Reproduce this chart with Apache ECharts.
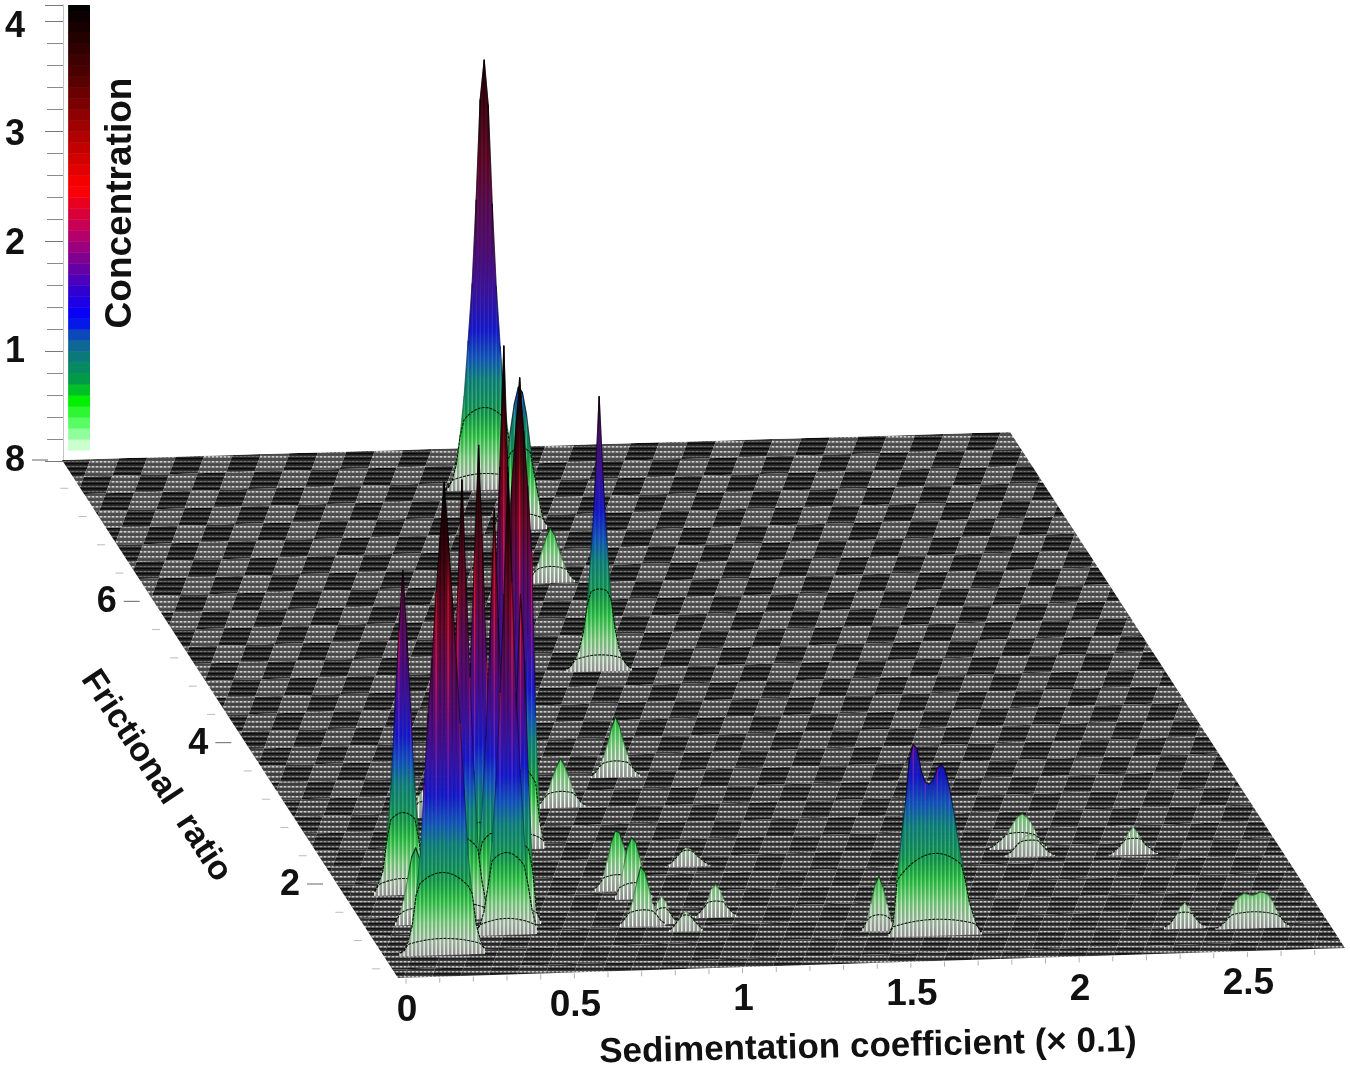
<!DOCTYPE html>
<html>
<head>
<meta charset="utf-8">
<title>Concentration surface</title>
<script src="https://cdn.jsdelivr.net/npm/echarts@6/dist/echarts.min.js"></script>
<style>
html, body { margin: 0; padding: 0; background: #fff; }
#chart { width: 1350px; height: 1071px; filter: blur(0.7px); }
</style>
</head>
<body>
<div id="chart"></div>
<script>
// tick values
var sedimentationTicks = [0, 0.1, 0.2, 0.3, 0.4, 0.5, 0.6, 0.7, 0.8, 0.9, 1, 1.1, 1.2, 1.3, 1.4, 1.5, 1.6, 1.7, 1.8, 1.9, 2, 2.1, 2.2, 2.3, 2.4, 2.5, 2.6, 2.7];
var sedimentationLabels = ['0', '0.5', '1', '1.5', '2', '2.5'];
var frictionalTicks = [8, 7.6, 7.2, 6.8, 6.4, 6, 5.6, 5.2, 4.8, 4.4, 4, 3.6, 3.2, 2.8, 2.4, 2, 1.6, 1.2, 0.8];
var frictionalLabels = ['8', '6', '4', '2'];
var concentrationLabels = ['1', '2', '3', '4'];

// colour bar, value -> colour
var barValues = [0.1, 0.3, 0.55, 0.72, 1.1, 1.3, 1.55, 1.85, 2.1, 2.48, 3.0, 3.5, 4.15];
var barColors = ['#e8ffe8', '#70ff80', '#00f000', '#00a040', '#1060a0', '#0000ff', '#3000d0', '#800090', '#c00060', '#ff0000', '#aa0000', '#500000', '#000000'];

// surface colours as they look on the mesh
var surfaceValues = [0, 0.12, 0.3, 0.5, 0.7, 1.0, 1.2, 1.45, 1.8, 2.2, 2.6, 3.0, 3.4, 3.9, 4.4];
var surfaceColors = ['#8c8c8c', '#98ac98', '#6cbc70', '#28b040', '#108a48', '#0c7a70', '#1050b0', '#1414c8', '#3a10a0', '#540c78', '#600c58', '#6c082c', '#500618', '#280006', '#000000'];

// peaks, back to front: centre on the floor and concentration per mesh column
var peakS = [1.149, 1.179, 1.166, 1.141, 0.988, 0.771, 0.35, 0.564, 0.573, 2.026, 1.03, 2.046, 2.35, 0.147, 0.779, 0.811, 0.349, 0.375, 0.272, 0.128, 1.015, 0.428, 0.851, 0.786, 0.372, 0.902, 1.465, 1.62, 2.36, 2.557, 0.148];
var peakF = [7.41, 6.84, 6.09, 4.84, 3.36, 2.96, 2.88, 2.68, 2.4, 2.19, 2.09, 2.08, 2.06, 1.82, 1.78, 1.66, 1.65, 1.5, 1.45, 1.4, 1.37, 1.36, 1.3, 1.28, 1.22, 1.19, 1.11, 1.02, 1.01, 0.985, 0.97];
var peakColumns = [
    [0.03, 0.1, 0.23, 0.5, 0.86, 1.36, 1.88, 2.64, 3.55, 3.91, 3.5, 2.6, 1.85, 1.3, 0.82, 0.5, 0.22, 0.09, 0.03],
    [0.05, 0.15, 0.35, 0.6, 0.9, 1.15, 1.3, 1.25, 1.05, 0.75, 0.5, 0.3, 0.12, 0.04],
    [0.02, 0.05, 0.1, 0.18, 0.3, 0.42, 0.5, 0.44, 0.32, 0.2, 0.12, 0.06, 0.02],
    [0.03, 0.06, 0.12, 0.2, 0.35, 0.6, 1.1, 1.7, 2.5, 1.75, 1.15, 0.65, 0.38, 0.2, 0.1, 0.05, 0.02],
    [0.02, 0.05, 0.1, 0.18, 0.3, 0.45, 0.55, 0.47, 0.32, 0.2, 0.1, 0.05, 0.02],
    [0.02, 0.05, 0.1, 0.17, 0.28, 0.38, 0.45, 0.38, 0.28, 0.17, 0.1, 0.05, 0.02],
    [0.03, 0.1, 0.2, 0.25, 0.2, 0.1, 0.03],
    [0.1, 0.3, 0.7, 1.3, 2.2, 3.3, 4.4, 3.3, 2.2, 1.3, 0.7, 0.3, 0.1],
    [0.07, 0.25, 1.2, 2.7, 3.3, 3.8, 4.29, 3.8, 3.3, 2.7, 1.2, 0.25, 0.07],
    [0.02, 0.04, 0.07, 0.1, 0.14, 0.19, 0.25, 0.3, 0.32, 0.29, 0.24, 0.17, 0.1, 0.05, 0.02],
    [0.01, 0.03, 0.06, 0.1, 0.14, 0.17, 0.16, 0.13, 0.09, 0.06, 0.03, 0.01],
    [0.02, 0.04, 0.08, 0.12, 0.16, 0.19, 0.2, 0.19, 0.15, 0.1, 0.06, 0.03, 0.01],
    [0.01, 0.03, 0.06, 0.1, 0.15, 0.21, 0.25, 0.2, 0.14, 0.09, 0.06, 0.03, 0.01],
    [0.04, 0.12, 0.22, 0.5, 0.95, 1.7, 2.4, 2.95, 2.35, 1.65, 0.95, 0.5, 0.22, 0.12, 0.04],
    [0.03, 0.07, 0.14, 0.28, 0.45, 0.55, 0.53, 0.42, 0.3, 0.16, 0.07, 0.02],
    [0.04, 0.12, 0.3, 0.48, 0.56, 0.52, 0.38, 0.22, 0.1, 0.03],
    [0.05, 0.15, 0.35, 0.7, 1.3, 2.2, 3.2, 4.18, 3.2, 2.2, 1.3, 0.7, 0.35, 0.15, 0.05],
    [0.05, 0.2, 0.5, 1.0, 1.7, 2.6, 3.7, 2.7, 1.8, 1.0, 0.5, 0.2, 0.05],
    [0.05, 0.15, 0.35, 0.7, 1.3, 2.1, 3.0, 4.0, 3.1, 2.2, 1.35, 0.7, 0.35, 0.15, 0.05],
    [0.03, 0.1, 0.22, 0.42, 0.62, 0.7, 0.6, 0.4, 0.2, 0.08, 0.03],
    [0.02, 0.05, 0.09, 0.16, 0.26, 0.3, 0.25, 0.16, 0.09, 0.05, 0.02],
    [0.05, 0.12, 0.3, 0.65, 1.2, 2.0, 3.0, 2.4, 1.3, 0.5, 0.12, 0.03],
    [0.03, 0.09, 0.2, 0.25, 0.2, 0.11, 0.05, 0.02],
    [0.03, 0.07, 0.13, 0.22, 0.4, 0.54, 0.5, 0.36, 0.2, 0.1, 0.05, 0.02],
    [0.04, 0.1, 0.22, 0.45, 0.85, 1.4, 2.2, 3.1, 4.2, 3.2, 2.2, 1.5, 0.9, 0.45, 0.22, 0.08],
    [0.02, 0.05, 0.1, 0.15, 0.18, 0.15, 0.1, 0.06, 0.02],
    [0.03, 0.1, 0.25, 0.42, 0.5, 0.4, 0.24, 0.1, 0.03],
    [0.03, 0.12, 0.55, 0.9, 1.2, 1.6, 1.75, 1.7, 1.5, 1.4, 1.38, 1.42, 1.52, 1.56, 1.5, 1.35, 1.15, 0.92, 0.7, 0.5, 0.3, 0.18, 0.08, 0.02],
    [0.02, 0.04, 0.08, 0.14, 0.2, 0.23, 0.19, 0.13, 0.08, 0.04, 0.02],
    [0.01, 0.03, 0.06, 0.1, 0.18, 0.26, 0.3, 0.32, 0.31, 0.3, 0.31, 0.33, 0.32, 0.3, 0.24, 0.16, 0.1, 0.05, 0.02],
    [0.03, 0.05, 0.13, 0.27, 0.55, 0.9, 1.55, 2.2, 2.7, 3.3, 3.8, 4.3, 3.8, 3.25, 2.7, 2.1, 1.5, 0.9, 0.55, 0.27, 0.13, 0.05]
];
var contourLevels = [0.15, 0.75];

// floor corners on the page and the axis range they stand for
var floorTL = [62, 460], floorTR = [1010, 432], floorBR = [1345, 948], floorBL = [398, 978];
var sMin = -0.024, sMax = 2.79, fTop = 8, fBottom = 0.67;
var zScale = 110;
var columnStep = 0.0119;

function project(s, f, c) {
    var u = (s - sMin) / (sMax - sMin);
    var v = (fTop - f) / (fTop - fBottom);
    var x = (1 - u) * (1 - v) * floorTL[0] + u * (1 - v) * floorTR[0] + u * v * floorBR[0] + (1 - u) * v * floorBL[0];
    var y = (1 - u) * (1 - v) * floorTL[1] + u * (1 - v) * floorTR[1] + u * v * floorBR[1] + (1 - u) * v * floorBL[1];
    return [x, y - (c || 0) * zScale];
}

function hexToRgb(hex) {
    return [parseInt(hex.substr(1, 2), 16), parseInt(hex.substr(3, 2), 16), parseInt(hex.substr(5, 2), 16)];
}
function mixColor(a, b, t) {
    var p = hexToRgb(a), q = hexToRgb(b);
    return 'rgb(' + Math.round(p[0] + (q[0] - p[0]) * t) + ',' + Math.round(p[1] + (q[1] - p[1]) * t) + ',' + Math.round(p[2] + (q[2] - p[2]) * t) + ')';
}
function colorAt(values, colors, c) {
    if (c <= values[0]) return mixColor(colors[0], colors[0], 0);
    for (var i = 1; i < values.length; i++) {
        if (c <= values[i]) {
            return mixColor(colors[i - 1], colors[i], (c - values[i - 1]) / (values[i] - values[i - 1]));
        }
    }
    return mixColor(colors[colors.length - 1], colors[colors.length - 1], 0);
}

// gradient from the floor up to height top
function surfaceGradient(top) {
    var stops = [{ offset: 0, color: surfaceColors[0] }];
    for (var i = 1; i < surfaceValues.length; i++) {
        if (surfaceValues[i] < top) stops.push({ offset: surfaceValues[i] / top, color: surfaceColors[i] });
    }
    stops.push({ offset: 1, color: colorAt(surfaceValues, surfaceColors, top) });
    return new echarts.graphic.LinearGradient(0, 1, 0, 0, stops);
}
// mesh lines: white low down, dark up high
var meshValues = [0, 0.25, 0.6, 1.2, 2, 4];
var meshAlpha = ['rgba(255,255,255,1)', 'rgba(235,255,235,0.8)', 'rgba(120,255,130,0.5)', 'rgba(110,200,255,0.2)', 'rgba(0,0,0,0.22)', 'rgba(0,0,0,0.6)'];
// brighter red mesh lines in the front group of peaks
var brightValues = [0, 0.25, 0.6, 1.2, 2, 2.6, 3.3, 4];
var brightAlpha = ['rgba(255,255,255,1)', 'rgba(235,255,235,0.8)', 'rgba(120,255,130,0.5)', 'rgba(70,110,255,0.5)', 'rgba(200,20,120,0.6)', 'rgba(255,20,50,0.85)', 'rgba(230,10,30,0.8)', 'rgba(0,0,0,0.6)'];
function meshGradient(top, values, alpha) {
    var stops = [{ offset: 0, color: alpha[0] }];
    for (var i = 1; i < values.length; i++) {
        if (values[i] < top) stops.push({ offset: values[i] / top, color: alpha[i] });
        else { stops.push({ offset: 1, color: alpha[i] }); break; }
    }
    return new echarts.graphic.LinearGradient(0, 1, 0, 0, stops);
}
function outlineGradient(top) {
    var a = Math.min(0.25 / top, 0.9);
    return new echarts.graphic.LinearGradient(0, 1, 0, 0, [
        { offset: 0, color: 'rgba(0,0,0,0)' },
        { offset: a, color: 'rgba(0,0,0,0.15)' },
        { offset: 1, color: 'rgba(0,0,0,0.75)' }
    ]);
}

// floor texture tiles, rows of dots on a dark ground
function makeTile(dark, contrast) {
    var rows = dark
        ? [['#2c2c2c', '#2c2c2c'], ['#707070', '#505050'], ['#2c2c2c', '#2c2c2c'], ['#0a0a0a', '#0a0a0a'], ['#1c1c1c', '#1c1c1c']]
        : [['#505050', '#505050'], ['#d0d0d0', '#808080'], ['#a0a0a0', '#6c6c6c'], ['#505050', '#505050'], ['#484848', '#484848']];
    var plain = [['#3a3a3a', '#3a3a3a'], ['#c8c8c8', '#787878'], ['#808080', '#585858'], ['#161616', '#161616'], ['#202020', '#202020']];
    var canvas = document.createElement('canvas');
    canvas.width = 4;
    canvas.height = 5;
    var ctx = canvas.getContext('2d');
    for (var y = 0; y < 5; y++) {
        ctx.fillStyle = mixColor(plain[y][0], rows[y][0], contrast);
        ctx.fillRect(0, y, 2, 1);
        ctx.fillStyle = mixColor(plain[y][1], rows[y][1], contrast);
        ctx.fillRect(2, y, 2, 1);
    }
    return { image: canvas, repeat: 'repeat' };
}
var floorRows = 31, floorCols = 56;
var floorContrast = [1, 1, 1, 0.95, 0.9, 0.8, 0.7, 0.55, 0.4, 0.3, 0.2];
var floorTiles = floorContrast.map(function (k) {
    return { dark: makeTile(true, k), light: makeTile(false, k) };
});
var floorCells = [];
for (var fj = 0; fj < floorRows; fj++) {
    for (var fi = 0; fi < floorCols; fi++) floorCells.push([fi, fj]);
}

function uvPoint(api, u, v) {
    var s = sMin + u * (sMax - sMin);
    var f = fTop - v * (fTop - fBottom);
    return api.coord(project(s, f, 0));
}

function renderFloor(params, api) {
    var children = [];
    var du = 0.03, dv = 0.0328, shift = -0.0185;
    for (var n = 0; n < floorCells.length; n++) {
        var i = floorCells[n][0], j = floorCells[n][1];
        var u0 = i * du + j * shift, v0 = j * dv;
        if (u0 + shift > 1.01 || u0 + du < -0.01) continue;
        var band = floorTiles[Math.min(floorTiles.length - 1, Math.floor(v0 * floorTiles.length))];
        children.push({
            type: 'polygon',
            shape: { points: [uvPoint(api, u0, v0), uvPoint(api, u0 + du, v0), uvPoint(api, u0 + du + shift, v0 + dv), uvPoint(api, u0 + shift, v0 + dv)] },
            style: { fill: (i + j) % 2 === 0 ? band.dark : band.light }
        });
    }
    return {
        type: 'group',
        clipPath: {
            type: 'polygon',
            shape: { points: [api.coord(floorTL), api.coord(floorTR), api.coord(floorBR), api.coord(floorBL)] }
        },
        children: children
    };
}

function renderPeak(params, api) {
    var idx = params.dataIndex;
    var cols = peakColumns[idx];
    var sStart = peakS[idx] - (cols.length - 1) / 2 * columnStep;
    var f = peakF[idx];
    var children = [];
    var base = [], tops = [];
    var maxC = 0;
    for (var i = 0; i < cols.length; i++) {
        var s = sStart + i * columnStep;
        base.push(api.coord(project(s, f, 0)));
        tops.push(api.coord(project(s, f, cols[i])));
        maxC = Math.max(maxC, cols[i]);
    }
    for (i = 0; i < cols.length - 1; i++) {
        var top = Math.max(cols[i], cols[i + 1]);
        var grad = surfaceGradient(top);
        children.push({
            type: 'polygon',
            shape: { points: [base[i], tops[i], tops[i + 1], base[i + 1]] },
            style: { fill: grad, stroke: grad, lineWidth: 0.6 }
        });
    }
    for (i = 0; i < cols.length; i++) {
        var bright = f < 3 && i % 3 === 0;
        children.push({
            type: 'line',
            shape: { x1: base[i][0], y1: base[i][1], x2: tops[i][0], y2: tops[i][1] },
            style: {
                stroke: bright ? meshGradient(cols[i], brightValues, brightAlpha) : meshGradient(cols[i], meshValues, meshAlpha),
                lineWidth: 1.3
            }
        });
    }
    // contour lines, domed over the middle of the peak
    var mid = (cols.length - 1) / 2;
    contourLevels.forEach(function (level) {
        if (maxC <= level) return;
        var pts = [];
        for (var k = 0; k < cols.length; k++) {
            var t = Math.abs(k - mid) / mid;
            var lift = Math.min(cols[k], level * (1 - 0.45 * t * t));
            pts.push(api.coord(project(sStart + k * columnStep, f, lift)));
        }
        children.push({
            type: 'polyline',
            shape: { points: pts },
            style: { fill: null, stroke: 'rgba(0,10,0,0.9)', lineWidth: 1.1, lineDash: [3, 1] }
        });
    });
    children.push({
        type: 'polyline',
        shape: { points: tops },
        style: { fill: null, stroke: outlineGradient(maxC), lineWidth: 1.2, lineJoin: 'round' }
    });
    return { type: 'group', children: children };
}

function renderTickText(text, point, size) {
    return {
        type: 'text',
        x: point[0],
        y: point[1],
        style: { text: text, font: 'bold ' + size + 'px "Liberation Sans"', fill: '#111', align: 'center', verticalAlign: 'middle' }
    };
}

function renderSedimentationTick(params, api) {
    var p = api.coord(project(sedimentationTicks[params.dataIndex], fBottom, 0));
    return {
        type: 'line',
        shape: { x1: p[0], y1: p[1] + 1, x2: p[0], y2: p[1] + 6 },
        style: { stroke: '#b0b0b0', lineWidth: 1 }
    };
}
function renderSedimentationLabel(params, api) {
    var text = sedimentationLabels[params.dataIndex];
    var p = api.coord(project(Number(text), fBottom, 0));
    return renderTickText(text, [p[0] + 1, p[1] + 33], 37);
}
function renderFrictionalTick(params, api) {
    var value = frictionalTicks[params.dataIndex];
    var p = api.coord(project(sMin, value, 0));
    var major = value % 2 === 0;
    return {
        type: 'line',
        shape: { x1: p[0] - (major ? 30 : 20), y1: p[1], x2: p[0] - (major ? 14 : 12), y2: p[1] },
        style: { stroke: major ? '#666' : '#bbb', lineWidth: 1 }
    };
}
function renderFrictionalLabel(params, api) {
    var text = frictionalLabels[params.dataIndex];
    var p = api.coord(project(sMin, Number(text), 0));
    return renderTickText(text, [p[0] - 47, p[1] + 1], 36);
}
function renderConcentrationLabel(params, api) {
    var text = concentrationLabels[params.dataIndex];
    var value = Number(text);
    var p = api.coord([0, value]);
    // labels drift a little from their ticks towards the top, as in the figure
    return renderTickText(text, [p[0] - 48, p[1] - 0.5 + 1.5 * value], 36);
}

var barCells = [];
for (var bc = 0.1; bc < 4.149; bc += 0.1) barCells.push(Number(bc.toFixed(1)));
function renderBarCell(params, api) {
    var c0 = barCells[params.dataIndex];
    var a = api.coord([0.19, c0]);
    var b = api.coord([1, Math.min(c0 + 0.1, 4.15)]);
    return {
        type: 'rect',
        shape: { x: a[0], y: b[1], width: b[0] - a[0], height: a[1] - b[1] + 0.5 },
        style: { fill: colorAt(barValues, barColors, c0 + 0.05) }
    };
}

function customSeries(render, data, z, axisIndex) {
    return {
        type: 'custom',
        coordinateSystem: 'cartesian2d',
        xAxisIndex: axisIndex || 0,
        yAxisIndex: axisIndex || 0,
        silent: true,
        clip: false,
        z: z,
        renderItem: render,
        data: data
    };
}
function indices(list) {
    return list.map(function (item, i) { return i; });
}

var chart = echarts.init(document.getElementById('chart'), null, { renderer: 'canvas' });
chart.setOption({
    animation: false,
    backgroundColor: '#ffffff',
    grid: [
        { left: 0, right: 0, top: 0, bottom: 0 },
        { left: 63, width: 27, top: 5, height: 456 }
    ],
    xAxis: [
        { type: 'value', min: 0, max: 1350, show: false, gridIndex: 0 },
        { type: 'value', min: 0, max: 1, show: false, gridIndex: 1 }
    ],
    yAxis: [
        { type: 'value', min: 0, max: 1071, inverse: true, show: false, gridIndex: 0 },
        {
            type: 'value',
            gridIndex: 1,
            min: 0,
            max: 4.15,
            interval: 1,
            position: 'left',
            axisLine: { show: true, lineStyle: { color: '#c4c4c4', width: 1 } },
            axisTick: { show: true, length: 18, lineStyle: { color: '#777', width: 1 } },
            minorTick: { show: true, splitNumber: 5, length: 16, lineStyle: { color: '#8a8a8a', width: 1 } },
            splitLine: { show: false },
            axisLabel: { show: false }
        }
    ],
    series: [
        customSeries(renderFloor, [0], 2),
        customSeries(renderPeak, indices(peakColumns), 3),
        customSeries(renderSedimentationTick, indices(sedimentationTicks), 4),
        customSeries(renderSedimentationLabel, indices(sedimentationLabels), 4),
        customSeries(renderFrictionalTick, indices(frictionalTicks), 4),
        customSeries(renderFrictionalLabel, indices(frictionalLabels), 4),
        customSeries(renderBarCell, indices(barCells), 4, 1),
        customSeries(renderConcentrationLabel, indices(concentrationLabels), 4, 1)
    ],
    graphic: [
        {
            type: 'text', x: 121, y: 203, rotation: Math.PI / 2, silent: true,
            style: { text: 'Concentration', font: 'bold 37px "Liberation Sans"', fill: '#111', align: 'center', verticalAlign: 'middle' }
        },
        {
            type: 'text', x: 156, y: 776, rotation: -0.988, silent: true,
            style: { text: 'Frictional  ratio', font: 'bold 34px "Liberation Sans"', fill: '#111', align: 'center', verticalAlign: 'middle' }
        },
        {
            type: 'text', x: 868, y: 1047, rotation: 0.022, silent: true,
            style: { text: 'Sedimentation coefficient (\u00d7 0.1)', font: 'bold 35px "Liberation Sans"', fill: '#111', align: 'center', verticalAlign: 'middle' }
        }
    ]
});
</script>
</body>
</html>
